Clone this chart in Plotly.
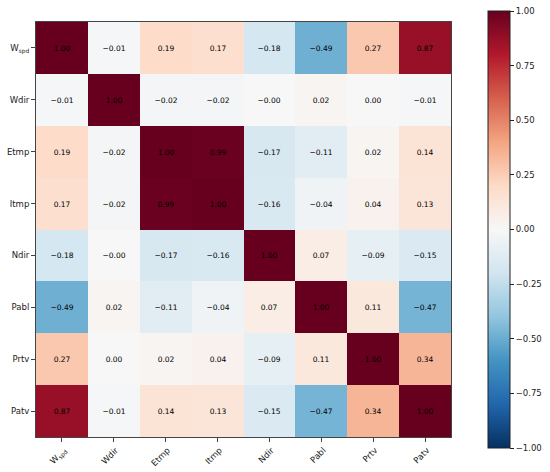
import plotly.graph_objects as go

# feature names (rows and columns are the same)
labels = ["W<sub>spd</sub>", "Wdir", "Etmp", "Itmp", "Ndir", "Pabl", "Prtv", "Patv"]

# correlation matrix, row by row
r_wspd = [1.00, -0.01, 0.19, 0.17, -0.18, -0.49, 0.27, 0.87]
r_wdir = [-0.01, 1.00, -0.02, -0.02, -0.0, 0.02, 0.00, -0.01]
r_etmp = [0.19, -0.02, 1.00, 0.99, -0.17, -0.11, 0.02, 0.14]
r_itmp = [0.17, -0.02, 0.99, 1.00, -0.16, -0.04, 0.04, 0.13]
r_ndir = [-0.18, -0.0, -0.17, -0.16, 1.00, 0.07, -0.09, -0.15]
r_pabl = [-0.49, 0.02, -0.11, -0.04, 0.07, 1.00, 0.11, -0.47]
r_prtv = [0.27, 0.00, 0.02, 0.04, -0.09, 0.11, 1.00, 0.34]
r_patv = [0.87, -0.01, 0.14, 0.13, -0.15, -0.47, 0.34, 1.00]

cbar_ticks = [1.0, 0.75, 0.5, 0.25, 0.0, -0.25, -0.5, -0.75, -1.0]

matrix = [r_wspd, r_wdir, r_etmp, r_itmp, r_ndir, r_pabl, r_prtv, r_patv]
text = [[f"{v:.2f}".replace("-", "\u2212") for v in row] for row in matrix]

# matplotlib RdBu_r
rdbu_r = ["#053061", "#2166ac", "#4393c3", "#92c5de", "#d1e5f0", "#f7f7f7",
          "#fddbc7", "#f4a582", "#d6604d", "#b2182b", "#67001f"]
colorscale = [[i / 10, c] for i, c in enumerate(rdbu_r)]

font = "DejaVu Sans"

fig = go.Figure(
    go.Heatmap(
        z=matrix,
        x=list(range(8)),
        y=list(range(8)),
        text=text,
        texttemplate="%{text}",
        textfont=dict(family=font, size=7.5, color="black"),
        colorscale=colorscale,
        zmin=-1, zmax=1,
        hoverinfo="skip",
        colorbar=dict(
            x=(488 - 36) / 415, xanchor="left", xpad=0,
            y=0.5, yanchor="middle", ypad=0,
            thickness=22, len=437, lenmode="pixels",
            outlinewidth=1, outlinecolor="#222",
            tickvals=cbar_ticks,
            ticktext=[f"{t:.2f}".replace("-", "\u2212") for t in cbar_ticks],
            ticks="outside", ticklen=4, tickcolor="#222",
            tickfont=dict(family=font, size=8.5, color="#222"),
        ),
    )
)

fig.update_xaxes(
    tickvals=list(range(8)), ticktext=labels, tickangle=-45,
    ticklabelshift=2,
    ticks="outside", ticklen=4, tickcolor="#444",
    showline=True, linecolor="#444", mirror=True, linewidth=1,
    showgrid=False, zeroline=False, automargin=False,
    range=[-0.5, 7.5],
    tickfont=dict(family=font, size=8.5, color="#222"),
)
fig.update_yaxes(
    tickvals=list(range(8)), ticktext=labels,
    ticks="outside", ticklen=4, tickcolor="#444",
    showline=True, linecolor="#444", mirror=True, linewidth=1,
    showgrid=False, zeroline=False, automargin=False,
    range=[7.5, -0.5],
    tickfont=dict(family=font, size=8.5, color="#222"),
)

fig.update_layout(
    width=550, height=472,
    margin=dict(l=36, r=99, t=22, b=35, autoexpand=False),
    plot_bgcolor="white", paper_bgcolor="white",
    font=dict(family=font),
)

# drop the page's default 8px body margin so the figure fills the window
fig.write_html(
    "out.html",
    config={"displayModeBar": False},
    post_script="document.body.style.margin = '0';",
)
